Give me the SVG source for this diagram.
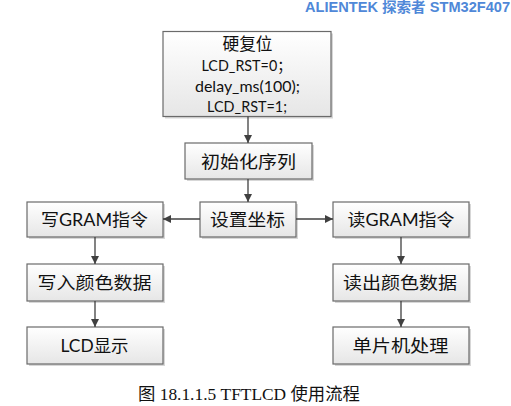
<svg xmlns="http://www.w3.org/2000/svg" width="511" height="406" viewBox="0 0 511 406">
<defs>
<linearGradient id="g" x1="0" y1="0" x2="0" y2="1">
<stop offset="0" stop-color="#ffffff"/>
<stop offset="1" stop-color="#e6e6e6"/>
</linearGradient>
<marker id="ah" viewBox="0 0 10 10" refX="10" refY="5" markerWidth="8" markerHeight="8" markerUnits="userSpaceOnUse" orient="auto">
<path d="M0,0 L10,5 L0,10 z" fill="#404040"/>
</marker>
</defs>
<style>
.box{fill:url(#g);stroke:#6a6a6a;stroke-width:1.2}
.sh{fill:#bdbdbd;opacity:0.6}
.t{font-family:"Lato","Noto Sans CJK SC",sans-serif;font-size:17px;fill:#111}
.l{font-family:"Lato","Noto Sans CJK SC",sans-serif;font-size:15px;fill:#111}
.c{stroke:#404040;stroke-width:1.3;fill:none;marker-end:url(#ah)}
.hd{font-family:"Liberation Sans","Noto Sans CJK SC",sans-serif;font-size:14px;font-weight:bold;fill:#4f88d8}
.cap{font-family:"Liberation Serif","Noto Sans CJK SC",serif;font-size:17px;fill:#111}
</style>
<text class="hd" x="305" y="11.5" textLength="205" lengthAdjust="spacingAndGlyphs">ALIENTEK 探索者 STM32F407</text>
<g id="reset">
<rect class="sh" x="165" y="33.5" width="168" height="85"/>
<rect class="box" x="163" y="31.5" width="168" height="85"/>
<text class="t" x="222.5" y="49.5" font-size="16" textLength="50" lengthAdjust="spacingAndGlyphs">硬复位</text>
<text class="l" x="201.5" y="71" textLength="90" lengthAdjust="spacingAndGlyphs">LCD_RST=0；</text>
<text class="l" x="195" y="91.5" textLength="105" lengthAdjust="spacingAndGlyphs">delay_ms(100);</text>
<text class="l" x="207" y="112" textLength="80" lengthAdjust="spacingAndGlyphs">LCD_RST=1;</text>
</g>
<g id="init">
<rect class="sh" x="187" y="145" width="127" height="36"/>
<rect class="box" x="185" y="143" width="127" height="36"/>
<text class="t" x="201" y="167.5" textLength="95" lengthAdjust="spacingAndGlyphs">初始化序列</text>
</g>
<g id="setxy">
<rect class="sh" x="202" y="204" width="96" height="35"/>
<rect class="box" x="200" y="202" width="96" height="35"/>
<text class="t" x="210" y="226" textLength="75" lengthAdjust="spacingAndGlyphs">设置坐标</text>
</g>
<g id="wgram">
<rect class="sh" x="29" y="204" width="136" height="35"/>
<rect class="box" x="27" y="202" width="136" height="35"/>
<text class="t" x="41" y="226" textLength="107" lengthAdjust="spacingAndGlyphs">写GRAM指令</text>
</g>
<g id="rgram">
<rect class="sh" x="335" y="204" width="136" height="35"/>
<rect class="box" x="333" y="202" width="136" height="35"/>
<text class="t" x="347.5" y="226" textLength="107" lengthAdjust="spacingAndGlyphs">读GRAM指令</text>
</g>
<g id="wcolor">
<rect class="sh" x="29" y="266" width="136" height="37"/>
<rect class="box" x="27" y="264" width="136" height="37"/>
<text class="t" x="37.5" y="289" textLength="114" lengthAdjust="spacingAndGlyphs">写入颜色数据</text>
</g>
<g id="rcolor">
<rect class="sh" x="335" y="266" width="136" height="37"/>
<rect class="box" x="333" y="264" width="136" height="37"/>
<text class="t" x="343" y="289" textLength="114" lengthAdjust="spacingAndGlyphs">读出颜色数据</text>
</g>
<g id="lcd">
<rect class="sh" x="29" y="329" width="136" height="37"/>
<rect class="box" x="27" y="327" width="136" height="37"/>
<text class="t" x="60.5" y="352" textLength="68" lengthAdjust="spacingAndGlyphs">LCD显示</text>
</g>
<g id="mcu">
<rect class="sh" x="335" y="329" width="136" height="37"/>
<rect class="box" x="333" y="327" width="136" height="37"/>
<text class="t" x="352.5" y="352" textLength="96" lengthAdjust="spacingAndGlyphs">单片机处理</text>
</g>
<g id="connectors">
<line class="c" x1="248" y1="116.5" x2="248" y2="143"/>
<line class="c" x1="248" y1="179" x2="248" y2="202"/>
<line class="c" x1="200" y1="219" x2="163" y2="219"/>
<line class="c" x1="296" y1="219" x2="333" y2="219"/>
<line class="c" x1="95" y1="237" x2="95" y2="264"/>
<line class="c" x1="95" y1="301" x2="95" y2="327"/>
<line class="c" x1="401" y1="237" x2="401" y2="264"/>
<line class="c" x1="401" y1="301" x2="401" y2="327"/>
</g>
<text class="cap" x="138" y="400" textLength="222" lengthAdjust="spacingAndGlyphs">图 18.1.1.5 TFTLCD 使用流程</text>
</svg>
